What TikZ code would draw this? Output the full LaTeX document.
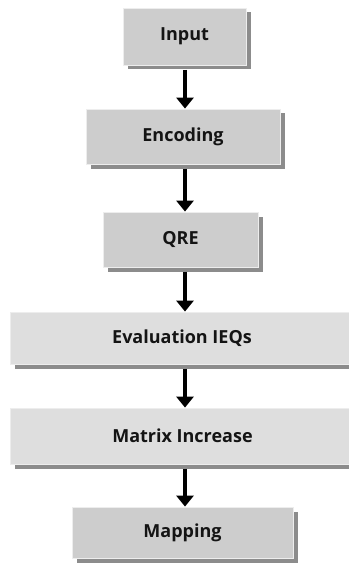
\documentclass[tikz,border=0pt]{standalone}
\usepackage{fontspec}
\setmainfont{Open Sans}
\usetikzlibrary{arrows.meta}
\definecolor{boxdark}{HTML}{CDCDCD}
\definecolor{boxlight}{HTML}{DEDEDE}
\definecolor{boxshadow}{HTML}{8C8C8C}
\definecolor{boxedge}{HTML}{EDEDED}
\definecolor{labeltext}{HTML}{141414}
\tikzset{
  stage/.style={rectangle, draw=boxedge, line width=0.8pt, inner sep=0pt,
    font=\bfseries\fontsize{18}{20}\selectfont, text=labeltext,
    preaction={draw=none, fill=boxshadow, transform canvas={shift={(4.5pt,-4.5pt)}}}},
  darkstage/.style={stage, fill=boxdark},
  lightstage/.style={stage, fill=boxlight},
  flow/.style={draw=black, line width=3.6pt,
    -{Triangle[width=17pt,length=11pt]}}
}
\begin{document}
\begin{tikzpicture}[x=1pt,y=-1pt]
  \useasboundingbox[fill=white] (0,0) rectangle (348,564);
  \node[darkstage, minimum width=123pt, minimum height=57pt] (in) at (184.5,36.5) {Input};
  \node[darkstage, minimum width=194pt, minimum height=55pt] (enc) at (183,136.5) {Encoding};
  \node[darkstage, minimum width=155pt, minimum height=55pt] (qre) at (180.5,239.5) {QRE};
  \node[lightstage, minimum width=344pt, minimum height=52pt] (ev) at (182,338) {Evaluation IEQs};
  \node[lightstage, minimum width=344pt, minimum height=56pt] (mat) at (182.5,436) {Matrix Increase};
  \node[darkstage, minimum width=221pt, minimum height=51pt] (map) at (182.5,532.5) {Mapping};
  \coordinate (ax) at (185,0);
  \draw[flow] ([yshift=-4.5pt]in.south -| ax) -- (enc.north -| ax);
  \draw[flow] ([yshift=-4.5pt]enc.south -| ax) -- (qre.north -| ax);
  \draw[flow] ([yshift=-4.5pt]qre.south -| ax) -- (ev.north -| ax);
  \draw[flow] ([yshift=-4.5pt]ev.south -| ax) -- (mat.north -| ax);
  \draw[flow] ([yshift=-4.5pt]mat.south -| ax) -- (map.north -| ax);
\end{tikzpicture}
\end{document}
